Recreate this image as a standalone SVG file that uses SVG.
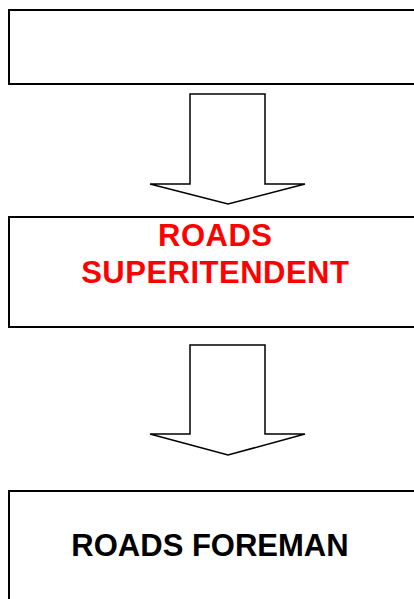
<svg xmlns="http://www.w3.org/2000/svg" width="414" height="599" viewBox="0 0 414 599">
<style>
.box{fill:#fff;stroke:#000;stroke-width:2}
.arrow{fill:#fff;stroke:#000;stroke-width:1.5;stroke-linejoin:miter}
.t{font-family:"Liberation Sans",Arial,sans-serif;font-weight:bold;font-size:31px;text-anchor:middle}
.r{fill:#ff0000;letter-spacing:0.5px}
</style>
<rect width="414" height="599" fill="#fff"/>
<g id="node-top">
<rect class="box" x="9" y="10" width="420" height="74"/>
</g>
<g id="node-superintendent">
<rect class="box" x="9" y="217" width="420" height="110"/>
<text class="t r" x="215.3" y="246">ROADS</text>
<text class="t r" x="215.3" y="283">SUPERITENDENT</text>
</g>
<g id="node-foreman">
<rect class="box" x="9" y="491" width="420" height="120"/>
<text class="t" fill="#000" x="210" y="556" font-size="30.7">ROADS FOREMAN</text>
</g>
<g id="connectors">
<polygon class="arrow" points="190,94 265,94 265,184 305,184 228,204 150,184 190,184"/>
<polygon class="arrow" points="190,345 265,345 265,434 305,434 228,455 150,434 190,434"/>
</g>
</svg>
